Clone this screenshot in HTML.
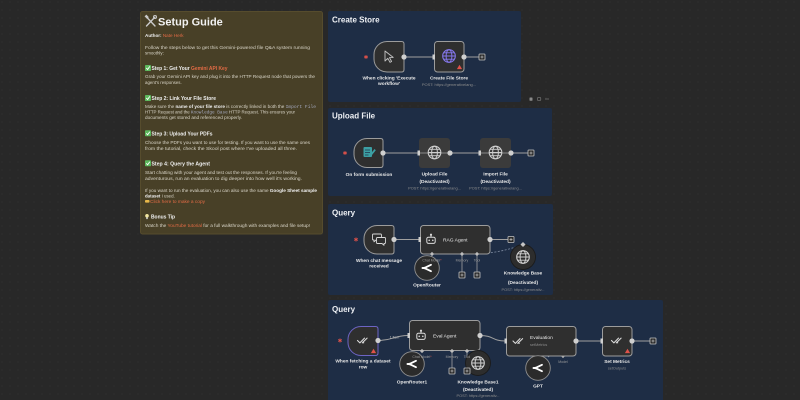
<!DOCTYPE html>
<html><head><meta charset="utf-8">
<style>
html,body{margin:0;padding:0;background:#282828;width:800px;height:400px;overflow:hidden}
svg{display:block}
text{font-family:"Liberation Sans",Arial,sans-serif}
</style></head><body>
<svg width="800" height="400" viewBox="0 0 800 400" xmlns="http://www.w3.org/2000/svg">
<defs>
<pattern id="dots" width="8" height="8" patternUnits="userSpaceOnUse"><circle cx="2" cy="2" r="0.5" fill="#393939"/></pattern>
<g id="globe">
  <circle r="6.3" fill="none" stroke-width="1.1"/>
  <ellipse rx="2.9" ry="6.3" fill="none" stroke-width="1"/>
  <line x1="-6.3" y1="0" x2="6.3" y2="0" stroke-width="1"/>
  <line x1="-5.3" y1="-3.2" x2="5.3" y2="-3.2" stroke-width="0.9"/>
  <line x1="-5.3" y1="3.2" x2="5.3" y2="3.2" stroke-width="0.9"/>
</g>
<g id="robot" fill="none" stroke="#dcdcdc" stroke-width="1">
  <rect x="-4.2" y="-2.3" width="8.4" height="6.2" rx="1.6"/>
  <line x1="0" y1="-2.3" x2="0" y2="-4.3"/>
  <circle cx="0" cy="-4.8" r="0.6" fill="#dcdcdc"/>
  <circle cx="-1.8" cy="0.8" r="0.8" fill="#dcdcdc" stroke="none"/>
  <circle cx="1.8" cy="0.8" r="0.8" fill="#dcdcdc" stroke="none"/>
</g>
<g id="dcheck" fill="none" stroke="#dadada" stroke-width="1.1" stroke-linecap="round" stroke-linejoin="round">
  <polyline points="-6,0 -3.6,2.4 1,-2.4"/>
  <polyline points="-1.2,2.4 3.6,-2.4"/>
  <line x1="-0.6" y1="1.6" x2="0.2" y2="2.4" />
</g>
<g id="orouter" fill="none" stroke="#ffffff" stroke-width="1.8" stroke-linecap="round" stroke-linejoin="round">
  <path d="M4,-3.2 L-1.5,-0.6 Q-3,0 -4.5,0 M-1.5,0.6 L4,3.2"/>
  <path d="M-4.5,0 Q-3,0 -1.5,0.6"/>
</g>
<g id="plus">
  <rect x="-3" y="-3" width="6" height="6" rx="0.6" fill="#2a2a2a" stroke="#c4c4c4" stroke-width="0.8"/>
  <line x1="-1.5" y1="0" x2="1.5" y2="0" stroke="#c4c4c4" stroke-width="0.7"/>
  <line x1="0" y1="-1.5" x2="0" y2="1.5" stroke="#c4c4c4" stroke-width="0.7"/>
</g>
<g id="star" stroke="#e0524a" stroke-width="0.9">
  <line x1="0" y1="-2" x2="0" y2="2"/>
  <line x1="-1.8" y1="-1" x2="1.8" y2="1"/>
  <line x1="-1.8" y1="1" x2="1.8" y2="-1"/>
</g>
<polygon id="warn" points="-2.6,1.6 2.6,1.6 0,-2.8" fill="#e0524a"/>
<g id="check">
  <rect x="0" y="-3" width="6" height="6" rx="0.8" fill="#5cb85c"/>
  <polyline points="1.3,0 2.6,1.5 4.8,-1.6" fill="none" stroke="#fff" stroke-width="0.9"/>
</g>
</defs>
<rect width="800" height="400" fill="#282828"/>
<rect width="800" height="400" fill="url(#dots)"/>

<!-- ================= STICKY ================= -->
<rect x="140.5" y="11.5" width="182" height="222.5" rx="2" fill="#484027" stroke="#564c2d" stroke-width="1"/>
<!-- tools icon -->
<g stroke="#c9c9c9" stroke-width="1.4" stroke-linecap="round">
  <line x1="146.5" y1="17" x2="155" y2="26"/>
  <line x1="155" y1="17" x2="146.5" y2="26"/>
</g>
<rect x="145" y="15.5" width="3.5" height="2.5" fill="#c9c9c9" transform="rotate(45 146.7 16.7)"/>
<circle cx="155" cy="17" r="1.6" fill="none" stroke="#c9c9c9" stroke-width="0.9"/>
<text x="158" y="25.5" font-size="11" font-weight="bold" fill="#f2f2f2">Setup Guide</text>

<g font-size="4.4" fill="#d9d5c8">
<text x="145" y="37" font-size="4.6" font-weight="bold" fill="#ececec">Author: <tspan fill="#e36b45" font-weight="normal">Nate Herk</tspan></text>
<text x="145" y="49.2" textLength="165" lengthAdjust="spacingAndGlyphs">Follow the steps below to get this Gemini-powered file Q&amp;A system running</text>
<text x="145" y="54.7">smoothly:</text>

<use href="#check" x="145" y="68"/>
<text x="151.5" y="70" font-size="5.3" font-weight="bold" fill="#efefef" textLength="76" lengthAdjust="spacingAndGlyphs">Step 1: Get Your <tspan fill="#e36b45">Gemini API Key</tspan></text>
<text x="145" y="78.2" textLength="170" lengthAdjust="spacingAndGlyphs">Grab your Gemini API key and plug it into the HTTP Request node that powers the</text>
<text x="145" y="83.8">agent's responses.</text>

<use href="#check" x="145" y="98"/>
<text x="151.5" y="100" font-size="5.3" font-weight="bold" fill="#efefef" textLength="64.5" lengthAdjust="spacingAndGlyphs">Step 2: Link Your File Store</text>
<text x="145" y="108.2" textLength="171" lengthAdjust="spacingAndGlyphs">Make sure the <tspan font-weight="bold" fill="#f0f0f0">name of your file store</tspan> is correctly linked in both the <tspan font-family="Liberation Mono" fill="#a4a8bd">Import File</tspan></text>
<text x="145" y="113.7" textLength="150" lengthAdjust="spacingAndGlyphs">HTTP Request and the <tspan font-family="Liberation Mono" fill="#a4a8bd">Knowledge Base</tspan> HTTP Request. This ensures your</text>
<text x="145" y="119.2" textLength="97" lengthAdjust="spacingAndGlyphs">documents get stored and referenced properly.</text>

<use href="#check" x="145" y="133.3"/>
<text x="151.5" y="135.3" font-size="5.3" font-weight="bold" fill="#efefef" textLength="61" lengthAdjust="spacingAndGlyphs">Step 3: Upload Your PDFs</text>
<text x="145" y="143.8" textLength="165" lengthAdjust="spacingAndGlyphs">Choose the PDFs you want to use for testing. If you want to use the same ones</text>
<text x="145" y="149.8" textLength="152" lengthAdjust="spacingAndGlyphs">from the tutorial, check the Skool post where I've uploaded all three.</text>

<use href="#check" x="145" y="163.3"/>
<text x="151.5" y="165.3" font-size="5.3" font-weight="bold" fill="#efefef" textLength="58.5" lengthAdjust="spacingAndGlyphs">Step 4: Query the Agent</text>
<text x="145" y="174.2" textLength="152" lengthAdjust="spacingAndGlyphs">Start chatting with your agent and test out the responses. If you're feeling</text>
<text x="145" y="179.8" textLength="157" lengthAdjust="spacingAndGlyphs">adventurous, run an evaluation to dig deeper into how well it's working.</text>

<text x="145" y="192.2" textLength="172" lengthAdjust="spacingAndGlyphs">If you want to run the evaluation, you can also use the same <tspan font-weight="bold" fill="#f0f0f0">Google Sheet sample</tspan></text>
<text x="145" y="197.5"><tspan font-weight="bold" fill="#f0f0f0">dataset</tspan> I used.</text>
<rect x="145" y="200" width="4.5" height="2.6" rx="0.8" fill="#e8b84a"/>
<text x="150" y="203.2" fill="#e36b45" textLength="55" lengthAdjust="spacingAndGlyphs">Click here to make a copy</text>

<circle cx="147" cy="215.8" r="1.8" fill="#f2e6a0"/>
<rect x="146.2" y="217.3" width="1.6" height="1.8" fill="#cfcfcf"/>
<text x="151" y="218.7" font-size="5.3" font-weight="bold" fill="#efefef" textLength="24" lengthAdjust="spacingAndGlyphs">Bonus Tip</text>
<text x="145" y="227.2" textLength="165" lengthAdjust="spacingAndGlyphs">Watch the <tspan fill="#e36b45">YouTube tutorial</tspan> for a full walkthrough with examples and file setup!</text>
</g>

<!-- ================= PANELS ================= -->
<rect x="328" y="11" width="193" height="91" rx="2" fill="#1e2d45"/>
<rect x="328" y="108" width="224" height="88" rx="2" fill="#1e2d45"/>
<rect x="328" y="204" width="225" height="91" rx="2" fill="#1e2d45"/>
<rect x="328" y="300" width="335" height="110" rx="2" fill="#1e2d45"/>
<g font-size="8" font-weight="bold" fill="#eef0f4">
<text x="332" y="22.5">Create Store</text>
<text x="332" y="118.5">Upload File</text>
<text x="332" y="215.5">Query</text>
<text x="332" y="312">Query</text>
</g>
<!-- small controls -->
<rect x="529.5" y="97.5" width="3" height="3.2" rx="0.6" fill="#8a8a8a"/>
<rect x="537.5" y="97.5" width="3.2" height="3" rx="0.6" fill="none" stroke="#6e6e6e" stroke-width="0.8"/>
<line x1="545" y1="99" x2="549" y2="99" stroke="#6e6e6e" stroke-width="0.8"/>

<!-- ================= CREATE STORE ================= -->
<use href="#star" x="366" y="57"/>
<line x1="404" y1="57" x2="433" y2="57" stroke="#a0a0a0" stroke-width="1"/>
<line x1="464" y1="57" x2="479" y2="57" stroke="#a0a0a0" stroke-width="1"/>
<path d="M387,41.5 H401.5 Q404,41.5 404,44 V69.5 Q404,72 401.5,72 H387 A13,13 0 0 1 374,59 V54.5 A13,13 0 0 1 387,41.5 Z" fill="#2f2f2f" stroke="#9c9c9c" stroke-width="1"/>
<path d="M385,51 L385,61 L387.8,58.3 L390,62.3 L391.6,61.5 L389.5,57.6 L393.2,57.4 Z" fill="none" stroke="#c4c4c4" stroke-width="0.9" stroke-linejoin="round"/>
<circle cx="404" cy="57" r="2.6" fill="#cfcfcf"/>
<rect x="434.5" y="41.5" width="29.5" height="30.5" rx="3" fill="#2f2f2f" stroke="#9c9c9c" stroke-width="1"/>
<rect x="432.5" y="54.5" width="2.5" height="5" fill="#cfcfcf"/>
<use href="#globe" x="449" y="56" stroke="#8577ec"/>
<use href="#warn" x="459.5" y="67.5"/>
<circle cx="464" cy="57" r="2.6" fill="#cfcfcf"/>
<use href="#plus" x="482" y="57"/>
<g font-size="4.8" font-weight="bold" fill="#e8e8e8" text-anchor="middle">
<text x="389" y="79.5">When clicking 'Execute</text>
<text x="389" y="85">workflow'</text>
<text x="449" y="79.5">Create File Store</text>
</g>
<text x="449" y="86" font-size="4" fill="#8c8c8c" text-anchor="middle">POST: https://generativelang...</text>

<!-- ================= UPLOAD FILE ================= -->
<use href="#star" x="345" y="153"/>
<line x1="383" y1="153" x2="418" y2="153" stroke="#a0a0a0" stroke-width="1"/>
<line x1="450" y1="153" x2="479" y2="153" stroke="#a0a0a0" stroke-width="1"/>
<line x1="511" y1="153" x2="528" y2="153" stroke="#a0a0a0" stroke-width="1"/>
<path d="M367,138.5 H380.5 Q383,138.5 383,141 V165 Q383,167.5 380.5,167.5 H367 A13,13 0 0 1 354,154.5 V151.5 A13,13 0 0 1 367,138.5 Z" fill="#2f2f2f" stroke="#9c9c9c" stroke-width="1"/>
<rect x="363.5" y="147" width="8.5" height="10" rx="1" fill="#3c9fa3"/>
<g stroke="#1e2d45" stroke-width="0.7"><line x1="365" y1="150" x2="370" y2="150"/><line x1="365" y1="152.5" x2="370" y2="152.5"/><line x1="365" y1="155" x2="368.5" y2="155"/></g>
<path d="M370.5,154 L374.5,149 L375.8,150.2 L371.8,155.2 Z" fill="#3c9fa3"/>
<circle cx="383" cy="153" r="2.6" fill="#cfcfcf"/>

<rect x="419" y="138" width="31" height="30" rx="3" fill="#3b3b3b"/>
<line x1="419" y1="153" x2="450" y2="153" stroke="#8a8a8a" stroke-width="1"/>
<use href="#globe" x="434.5" y="152.5" stroke="#d0d0d0"/>
<rect x="417.5" y="150.5" width="2.5" height="5" fill="#cfcfcf"/>
<circle cx="450" cy="153" r="2.6" fill="#cfcfcf"/>

<rect x="480" y="138" width="31" height="30" rx="3" fill="#3b3b3b"/>
<line x1="480" y1="153" x2="511" y2="153" stroke="#8a8a8a" stroke-width="1"/>
<use href="#globe" x="495.5" y="152.5" stroke="#d0d0d0"/>
<rect x="478.5" y="150.5" width="2.5" height="5" fill="#cfcfcf"/>
<circle cx="511" cy="153" r="2.6" fill="#cfcfcf"/>
<use href="#plus" x="531" y="153"/>
<g font-size="4.8" font-weight="bold" fill="#e8e8e8" text-anchor="middle">
<text x="369" y="176">On form submission</text>
<text x="434.5" y="175.5">Upload File</text>
<text x="434.5" y="183">(Deactivated)</text>
<text x="495.5" y="175.5">Import File</text>
<text x="495.5" y="183">(Deactivated)</text>
</g>
<g font-size="3.9" fill="#8c8c8c" text-anchor="middle">
<text x="434.5" y="189.3">POST: https://generativelang...</text>
<text x="495.5" y="189.3">POST: https://generativelang...</text>
</g>

<!-- ================= QUERY 1 ================= -->
<use href="#star" x="356" y="239.5"/>
<line x1="394" y1="239.5" x2="419" y2="239.5" stroke="#a0a0a0" stroke-width="1"/>
<line x1="490" y1="239.5" x2="508" y2="239.5" stroke="#a0a0a0" stroke-width="1"/>
<path d="M377,225.5 H391.5 Q394,225.5 394,228 V251.5 Q394,254 391.5,254 H377 A13,13 0 0 1 364,241 V238.5 A13,13 0 0 1 377,225.5 Z" fill="#2f2f2f" stroke="#9c9c9c" stroke-width="1"/>
<g fill="#2f2f2f" stroke="#d8d8d8" stroke-width="0.9" stroke-linejoin="round">
<path d="M373.5,234 H380.5 Q381.5,234 381.5,235 V239 Q381.5,240 380.5,240 H376 L374,241.8 V240 H373.5 Q372.5,240 372.5,239 V235 Q372.5,234 373.5,234 Z"/>
<path d="M377.5,237.5 H384.5 Q385.5,237.5 385.5,238.5 V242.5 Q385.5,243.5 384.5,243.5 H384 V245.3 L382,243.5 H377.5 Q376.5,243.5 376.5,242.5 V238.5 Q376.5,237.5 377.5,237.5 Z"/>
</g>
<circle cx="394" cy="239.5" r="2.6" fill="#cfcfcf"/>

<!-- sub connections -->
<line x1="462" y1="254" x2="462" y2="272" stroke="#a0a0a0" stroke-width="0.8"/>
<line x1="477" y1="254" x2="477" y2="272" stroke="#a0a0a0" stroke-width="0.8"/>
<path d="M477,254 Q500,253 523,244.5" fill="none" stroke="#7d8aa0" stroke-width="0.8" stroke-dasharray="2,1.5"/>

<rect x="420.5" y="225.5" width="69.5" height="28.5" rx="3" fill="#2f2f2f" stroke="#9c9c9c" stroke-width="1"/>
<rect x="418.5" y="237" width="2.5" height="5" fill="#cfcfcf"/>
<use href="#robot" x="431" y="239.5"/>
<text x="443" y="241.3" font-size="4.9" fill="#e8e8e8">RAG Agent</text>
<circle cx="490" cy="239.5" r="2.6" fill="#cfcfcf"/>
<use href="#plus" x="511" y="239.5"/>

<circle cx="427" cy="268" r="12.3" fill="#2b2b2b" stroke="#8e8e8e" stroke-width="0.9"/>
<use href="#orouter" x="427" y="268"/>
<circle cx="523" cy="257" r="12.5" fill="#2d2d2d" stroke="#1b1b1b" stroke-width="0.9"/>
<use href="#globe" x="523" y="257" stroke="#d0d0d0"/>
<rect x="521.2" y="242.7" width="3.6" height="3.6" fill="#c4c4c4" transform="rotate(45 523 244.5)"/>

<g fill="#bdbdbd">
<rect x="430.5" y="252.5" width="3" height="3" transform="rotate(45 432 254)"/>
<rect x="460.5" y="252.5" width="3" height="3" transform="rotate(45 462 254)"/>
<rect x="475.5" y="252.5" width="3" height="3" transform="rotate(45 477 254)"/>
</g>
<g font-size="3.5" fill="#9a9a9a" text-anchor="middle">
<text x="432" y="261.3">Chat Model<tspan fill="#e0524a">*</tspan></text>
<text x="462" y="261.3">Memory</text>
<text x="477" y="261.3">Tool</text>
</g>
<use href="#plus" x="462" y="275"/>
<use href="#plus" x="477" y="275"/>
<g font-size="4.8" font-weight="bold" fill="#e8e8e8" text-anchor="middle">
<text x="379" y="262">When chat message</text>
<text x="379" y="267.5">received</text>
<text x="427" y="286.7">OpenRouter</text>
<text x="523" y="274.5">Knowledge Base</text>
<text x="523" y="283.8">(Deactivated)</text>
</g>
<text x="523" y="291.2" font-size="3.9" fill="#8c8c8c" text-anchor="middle">POST: https://generativ...</text>

<!-- ================= QUERY 2 ================= -->
<use href="#star" x="340" y="340.5"/>
<path d="M378,340.5 C393,340.5 394,335.5 408,335.5" fill="none" stroke="#a0a0a0" stroke-width="1"/>
<text x="394.5" y="338.3" font-size="3.5" fill="#c8c8c8" text-anchor="middle">1 item</text>
<path d="M480,335.5 C494,335.5 492,341 505,341" fill="none" stroke="#a0a0a0" stroke-width="1"/>
<line x1="576" y1="341" x2="601" y2="341" stroke="#a0a0a0" stroke-width="1"/>
<line x1="632" y1="341" x2="650" y2="341" stroke="#a0a0a0" stroke-width="1"/>

<path d="M361,326.5 H375.5 Q378,326.5 378,329 V353 Q378,355.5 375.5,355.5 H361 A13,13 0 0 1 348,342.5 V339.5 A13,13 0 0 1 361,326.5 Z" fill="#2f2f2f" stroke="#6d64c4" stroke-width="1"/>
<use href="#dcheck" x="363.5" y="340.5"/>
<use href="#warn" x="373.5" y="351.5"/>
<circle cx="378" cy="340.5" r="2.6" fill="#cfcfcf"/>

<line x1="452" y1="351" x2="452" y2="368" stroke="#a0a0a0" stroke-width="0.8"/>
<line x1="467" y1="351" x2="467" y2="368" stroke="#a0a0a0" stroke-width="0.8"/>

<rect x="409.5" y="320.5" width="70.5" height="30" rx="3" fill="#2f2f2f" stroke="#9c9c9c" stroke-width="1"/>
<rect x="407.5" y="333" width="2.5" height="5" fill="#cfcfcf"/>
<use href="#robot" x="421" y="335.5"/>
<text x="433" y="337.5" font-size="4.9" fill="#e8e8e8">Eval Agent</text>
<circle cx="480" cy="335.5" r="2.6" fill="#cfcfcf"/>

<circle cx="412" cy="364" r="12.3" fill="#2b2b2b" stroke="#8e8e8e" stroke-width="0.9"/>
<use href="#orouter" x="412" y="364"/>
<circle cx="478" cy="363" r="12.5" fill="#2d2d2d" stroke="#1b1b1b" stroke-width="0.9"/>
<use href="#globe" x="478" y="363" stroke="#d0d0d0"/>

<g fill="#bdbdbd">
<rect x="420.5" y="349.5" width="3" height="3" transform="rotate(45 422 351)"/>
<rect x="450.5" y="349.5" width="3" height="3" transform="rotate(45 452 351)"/>
<rect x="465.5" y="349.5" width="3" height="3" transform="rotate(45 467 351)"/>
<rect x="561.5" y="354.5" width="3" height="3" transform="rotate(45 563 356)"/>
</g>
<g font-size="3.5" fill="#9a9a9a" text-anchor="middle">
<text x="422" y="357.8">Chat Model<tspan fill="#e0524a">*</tspan></text>
<text x="452" y="357.8">Memory</text>
<text x="467" y="357.8">Tool</text>
<text x="563" y="362.8">Model</text>
</g>
<use href="#plus" x="452" y="371"/>
<use href="#plus" x="467" y="371"/>

<path d="M548,357 Q555,352 563,356" fill="none" stroke="#8a96aa" stroke-width="0.8"/>
<rect x="506.5" y="326.5" width="69.5" height="29.5" rx="3" fill="#2f2f2f" stroke="#9c9c9c" stroke-width="1"/>
<rect x="504.5" y="338.5" width="2.5" height="5" fill="#cfcfcf"/>
<use href="#dcheck" x="519" y="341"/>
<text x="530" y="339" font-size="4.9" fill="#e8e8e8">Evaluation</text>
<text x="530" y="346" font-size="3.8" fill="#8c8c8c">setMetrics</text>
<circle cx="576" cy="341" r="2.6" fill="#cfcfcf"/>

<circle cx="538" cy="368" r="12.3" fill="#2b2b2b" stroke="#8e8e8e" stroke-width="0.9"/>
<use href="#orouter" x="538" y="368"/>

<rect x="602.5" y="326.5" width="29.5" height="29.5" rx="3" fill="#2f2f2f" stroke="#9c9c9c" stroke-width="1"/>
<rect x="600.5" y="338.5" width="2.5" height="5" fill="#cfcfcf"/>
<use href="#dcheck" x="617.5" y="340.5"/>
<use href="#warn" x="627.5" y="351.5"/>
<circle cx="632" cy="341" r="2.6" fill="#cfcfcf"/>
<use href="#plus" x="653" y="341"/>

<g font-size="4.8" font-weight="bold" fill="#e8e8e8" text-anchor="middle">
<text x="363" y="362.5">When fetching a dataset</text>
<text x="363" y="368.5">row</text>
<text x="412" y="383.5">OpenRouter1</text>
<text x="478" y="383.5">Knowledge Base1</text>
<text x="478" y="391">(Deactivated)</text>
<text x="538" y="387.5">GPT</text>
<text x="617" y="363">Set Metrics</text>
</g>
<text x="478" y="397" font-size="3.9" fill="#8c8c8c" text-anchor="middle">POST: https://generativ...</text>
<text x="617" y="369.5" font-size="3.8" fill="#8c8c8c" text-anchor="middle">setOutputs</text>
</svg>
</body></html>
